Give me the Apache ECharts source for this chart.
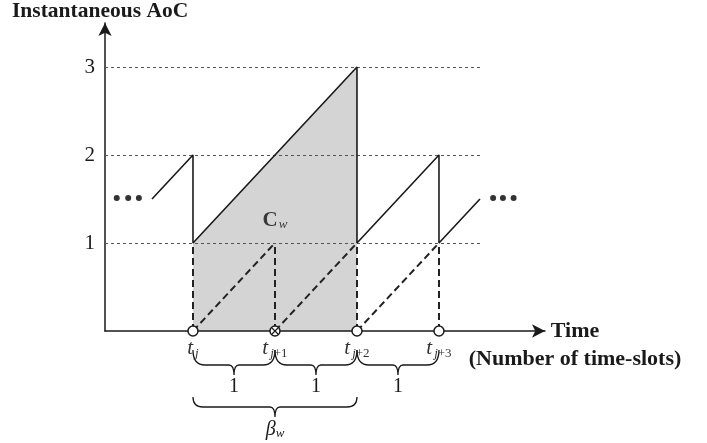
<!DOCTYPE html>
<html>
<head>
<meta charset="utf-8">
<script src="https://cdn.jsdelivr.net/npm/echarts@6/dist/echarts.min.js"></script>
<style>
  html, body { margin: 0; padding: 0; background: #fff; }
  #chart { width: 707px; height: 443px; }
</style>
</head>
<body>
<div id="chart"></div>
<script>
// x is counted in time-slots, t_j sits at x = 0
const slotTicks = [0, 1, 2, 3];
const slotSubs = ['j', 'j+1', 'j+2', 'j+3'];
const crossedSlot = [false, true, false, false];

const ageLevels = [1, 2, 3];
const guideEnd = 3.52;

// instantaneous AoC sawtooth
const ageCurve = [[-0.5, 1.5], [0, 2], [0, 1], [2, 3], [2, 1], [3, 2], [3, 1], [3.5, 1.5]];
// upper edge of shaded area C_w (filled down to 0)
const shadeTop = [[0, 1], [2, 3]];
const dropHeight = 1;

const leftDots = [[-0.93, 1.51], [-0.79, 1.51], [-0.66, 1.51]];
const rightDots = [[3.66, 1.51], [3.78, 1.51], [3.91, 1.51]];
const areaLabelAt = [[1, 1.25]];

// braces under the time axis
const braceFrom = [0, 1, 2, 0];
const braceTo = [1, 2, 3, 2];
const braceRow = [0, 0, 0, 1];
const braceText = ['1', '1', '1', '{b|β}{w|w}'];

const serif = '"Liberation Serif", "Times New Roman", serif';
const ink = '#1a1a1a';
const xMin = -1.073, xMax = 4.293;

// pixel layout of each brace row, measured down from the axis
const rowGeom = [
  { top: 19, mid: 34, tip: 44, label: 56, r: 12 },
  { top: 66, mid: 76, tip: 86, label: 99, r: 10 }
];

const dropLines = [];
slotTicks.forEach(t => dropLines.push({ coords: [[t, 0], [t, dropHeight]] }));
for (let i = 0; i < slotTicks.length - 1; i++) {
  dropLines.push({ coords: [[slotTicks[i], 0], [slotTicks[i + 1], dropHeight]] });
}

const chart = echarts.init(document.getElementById('chart'));

const renderBrace = (params, api) => {
  const g = rowGeom[api.value(2)];
  const x0 = api.coord([api.value(0), 0])[0];
  const x1 = api.coord([api.value(1), 0])[0];
  const base = api.coord([0, 0])[1];
  const xc = (x0 + x1) / 2;
  const yt = base + g.top, ym = base + g.mid, yk = base + g.tip;
  const r = g.r, rc = 5;
  const d = `M${x0},${yt} Q${x0},${ym} ${x0 + r},${ym} L${xc - rc},${ym} Q${xc},${ym} ${xc},${yk}` +
    ` M${x1},${yt} Q${x1},${ym} ${x1 - r},${ym} L${xc + rc},${ym} Q${xc},${ym} ${xc},${yk}`;
  return {
    type: 'group',
    children: [
      { type: 'path', shape: { pathData: d }, style: { fill: 'none', stroke: ink, lineWidth: 1.3 } },
      {
        type: 'text',
        x: xc,
        y: base + g.label,
        style: {
          text: braceText[params.dataIndex],
          fontFamily: serif,
          fontSize: 20,
          fill: ink,
          align: 'center',
          verticalAlign: 'middle',
          rich: {
            b: { fontFamily: serif, fontSize: 20, fontStyle: 'italic', fill: ink },
            w: { fontFamily: serif, fontSize: 13, fontStyle: 'italic', fill: ink, padding: [8, 0, 0, 0] }
          }
        }
      }
    ]
  };
};

chart.setOption({
  animation: false,
  backgroundColor: '#fff',
  title: {
    text: 'Instantaneous AoC',
    left: 12,
    top: 0,
    padding: 0,
    textStyle: { fontFamily: serif, fontSize: 21.5, fontWeight: 'bold', color: ink }
  },
  grid: { left: 105, right: 162, top: 23, bottom: 112 },
  xAxis: {
    type: 'value',
    min: xMin,
    max: xMax,
    z: 5,
    axisLine: { symbol: ['none', 'arrow'], symbolSize: [10, 13], lineStyle: { color: ink, width: 1.5 } },
    axisTick: { show: false },
    axisLabel: { show: false },
    splitLine: { show: false },
    name: '\nTime\n(Number of time-slots)',
    nameLocation: 'end',
    nameGap: 30,
    nameTextStyle: {
      fontFamily: serif, fontSize: 22, fontWeight: 'bold', color: ink,
      align: 'center', verticalAlign: 'middle', lineHeight: 28
    }
  },
  yAxis: {
    type: 'value',
    min: 0,
    max: 3.5,
    interval: 1,
    axisLine: { onZero: false, symbol: ['none', 'arrow'], symbolSize: [10, 13], lineStyle: { color: ink, width: 1.5 } },
    axisTick: { show: false },
    splitLine: { show: false },
    axisLabel: {
      margin: 10,
      fontFamily: serif,
      fontSize: 21,
      color: ink,
      formatter: v => (ageLevels.includes(v) ? String(v) : '')
    }
  },
  series: [
    {
      type: 'line',
      data: shadeTop,
      symbol: 'none',
      lineStyle: { width: 0 },
      areaStyle: { color: '#d4d4d4', opacity: 1 },
      z: 1
    },
    {
      type: 'lines',
      coordinateSystem: 'cartesian2d',
      data: ageLevels.map(v => ({ coords: [[xMin, v], [guideEnd, v]] })),
      lineStyle: { color: '#555', width: 1, type: [3, 3], opacity: 1 },
      z: 2
    },
    {
      type: 'lines',
      coordinateSystem: 'cartesian2d',
      data: dropLines,
      lineStyle: { color: '#222', width: 2, type: [7, 4], opacity: 1 },
      z: 3
    },
    {
      type: 'line',
      data: ageCurve,
      symbol: 'none',
      lineStyle: { color: ink, width: 1.6 },
      z: 4
    },
    {
      type: 'scatter',
      data: leftDots.concat(rightDots),
      symbol: 'circle',
      symbolSize: 6,
      itemStyle: { color: '#000' },
      z: 4
    },
    {
      type: 'scatter',
      data: areaLabelAt,
      symbolSize: 0,
      label: {
        show: true,
        position: 'inside',
        formatter: '{c|C}{w|w}',
        rich: {
          c: { fontFamily: serif, fontSize: 21, fontWeight: 'bold', color: '#111' },
          w: { fontFamily: serif, fontSize: 13, fontStyle: 'italic', color: '#111', padding: [8, 0, 0, 1] }
        }
      },
      z: 4
    },
    {
      type: 'scatter',
      data: slotTicks.map(t => [t, 0]),
      symbol: 'circle',
      symbolSize: 10,
      itemStyle: { color: '#fff', borderColor: ink, borderWidth: 1.5, opacity: 1 },
      label: {
        show: true,
        position: 'bottom',
        distance: 0,
        formatter: p => {
          const s = slotSubs[p.dataIndex];
          return '{t|t}{j|j}' + (s.length > 1 ? '{n|' + s.slice(1) + '}' : '');
        },
        rich: {
          t: { fontFamily: serif, fontSize: 21, fontStyle: 'italic', color: '#333' },
          j: { fontFamily: serif, fontSize: 13, fontStyle: 'italic', color: '#333', padding: [10, 0, 0, 2] },
          n: { fontFamily: serif, fontSize: 13, color: '#333', padding: [10, 0, 0, 0] }
        }
      },
      z: 10
    },
    {
      type: 'scatter',
      data: slotTicks.filter((t, i) => crossedSlot[i]).map(t => [t, 0]),
      symbol: 'path://M0,0L10,10M10,0L0,10',
      symbolSize: 6,
      itemStyle: { color: 'none', borderColor: ink, borderWidth: 1.2, opacity: 1 },
      z: 11
    },
    {
      type: 'custom',
      coordinateSystem: 'cartesian2d',
      clip: false,
      data: braceFrom.map((f, i) => [f, braceTo[i], braceRow[i]]),
      encode: { x: [0, 1] },
      renderItem: renderBrace,
      z: 4
    }
  ]
});
</script>
</body>
</html>
